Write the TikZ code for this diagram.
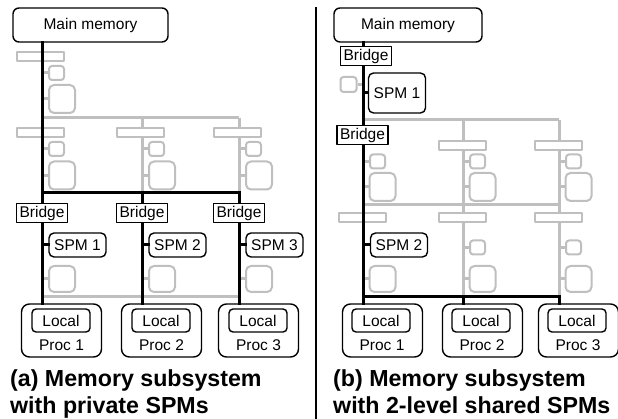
\documentclass[tikz,border=0pt]{standalone}
\usepackage{fontspec}
\setmainfont{Liberation Sans}
\definecolor{busgray}{RGB}{191,191,191}
\begin{document}
\begin{tikzpicture}[x=1pt, y=-1pt, line join=round, font=\fontsize{15.5}{17}\selectfont,
	box/.style={draw, line width=1.4pt, fill=white, inner sep=0pt},
	mem/.style={box, rounded corners=6pt, minimum width=155pt, minimum height=34pt},
	bridge/.style={box, minimum width=51pt, minimum height=19pt},
	spm/.style={box, rounded corners=5pt, minimum width=57pt, minimum height=24pt},
	proc/.style={box, rounded corners=8pt, minimum width=80pt, minimum height=53pt},
	local/.style={box, rounded corners=4pt, minimum width=58pt, minimum height=23pt},
	gbrg/.style={draw=busgray, line width=2pt, fill=white, inner sep=0pt, minimum width=47pt, minimum height=9pt},
	gsq/.style={gbrg, rounded corners=3pt, minimum width=15pt, minimum height=14pt},
	gspm/.style={gbrg, rounded corners=5pt, minimum width=26pt, minimum height=28pt},
	bus/.style={line width=3pt, line cap=rect},
	gbus/.style={busgray, line width=3pt},
	capt/.style={anchor=north west, inner sep=0pt, align=left, font=\bfseries\fontsize{23.2}{27}\selectfont}]
	\useasboundingbox (0,0) rectangle (618,419);
	% (a) private SPMs
	\coordinate (ga1) at (42,118); \coordinate (ga2) at (142,118); \coordinate (ga3) at (239,118);
	\coordinate (ca1) at (42,193); \coordinate (ca2) at (142,193); \coordinate (ca3) at (239,193);
	\coordinate (ha1) at (42,297); \coordinate (ha3) at (239,297);
	\draw[gbus] (ga1) -- (ga3) (ga2) -- (ca2) (ga3) -- (ca3) (ha1) -- (ha3);
	\node[gbrg] (gbA0) at (40.5,56.5) {};
	\node[gsq] (gsA0) at (56.5,73) {};
	\node[gspm] (gmA0) at (62,99) {};
	\draw[gbus] (gsA0.west -| ca1) -- (gsA0.west) (gmA0.west -| ca1) -- (gmA0.west);
	\node[mem] (mainA) at (90.5,25) {Main memory};
	\foreach \c [count=\i] in {42,142,239}{
		\node[gbrg] (gbA\i) at (\c-1.5,132.5) {};
		\node[gsq] (gsA\i) at (\c+14.5,149) {};
		\node[gspm] (gmA\i) at (\c+20,175.5) {};
		\node[gspm, minimum height=26pt] (glA\i) at (\c+20,279) {};
		\draw[gbus] (gsA\i.west -| ca\i) -- (gsA\i.west) (gmA\i.west -| ca\i) -- (gmA\i.west)
			(glA\i.west -| ca\i) -- (glA\i.west);
		\node[bridge] (brA\i) at (\c,213) {Bridge};
		\node[spm] (spmA\i) at (\c+35.5,245) {SPM \i};
		\node[proc] (procA\i) at (\c+19.5,330.5) {};
		\node[local] (locA\i) at (\c+19,320.5) {Local};
		\node (plA\i) at (\c+19.5,345) {Proc \i};
		\draw[bus] (ca\i) -- (brA\i.north -| ca\i) (brA\i.south -| ca\i) -- (procA\i.north -| ca\i)
			(spmA\i.west -| ca\i) -- (spmA\i.west);
	}
	\draw[bus] (mainA.south -| ca1) -- (ca1) -- (ca3);
	\node[capt] (capA) at (10,369) {(a) Memory subsystem\\with private SPMs};
	\draw[line width=2pt] (316,7) -- (316,419);
	% (b) 2-level shared SPMs
	\coordinate (gb1) at (363,120); \coordinate (gb2) at (463,120); \coordinate (gb3) at (559,120);
	\coordinate (hb1) at (363,205); \coordinate (hb3) at (559,205);
	\coordinate (cb1) at (363,297); \coordinate (cb2) at (463,297); \coordinate (cb3) at (559,297);
	\draw[gbus] (gb1) -- (gb3) (gb2) -- (cb2) (gb3) -- (cb3) (hb1) -- (hb3);
	\node[mem, minimum width=148pt] (mainB) at (408,25) {Main memory};
	\node[bridge] (brB1) at (366,56) {Bridge};
	\node[gsq, minimum width=16pt, minimum height=15pt] (gsB0) at (348.5,84.5) {};
	\draw[gbus] (gsB0.east) -- (gsB0.east -| cb1);
	\node[spm, minimum height=40pt] (spmB1) at (397,93) {SPM 1};
	\node[bridge] (brB2) at (362.5,135) {Bridge};
	\node[spm] (spmB2) at (399,245) {SPM 2};
	\foreach \c [count=\i] in {363,463,559}{
		\node[gsq] (gsB\i) at (\c+14.5,161.5) {};
		\node[gspm] (gmB\i) at (\c+19.5,187) {};
		\node[gbrg] (gcB\i) at (\c-1,218) {};
		\node[gspm, minimum height=26pt] (glB\i) at (\c+19.5,279) {};
		\draw[gbus] (gsB\i.west -| cb\i) -- (gsB\i.west) (gmB\i.west -| cb\i) -- (gmB\i.west)
			(glB\i.west -| cb\i) -- (glB\i.west);
		\node[proc] (procB\i) at (\c+19.5,330.5) {};
		\node[local] (locB\i) at (\c+18,320.5) {Local};
		\node (plB\i) at (\c+19,345) {Proc \i};
		\draw[bus] (cb\i) -- (procB\i.north -| cb\i);
	}
	\foreach \c [count=\i from 2] in {463,559}{
		\node[gbrg] (gbB\i) at (\c-1,145.5) {};
		\node[gsq] (gdB\i) at (\c+14.5,247.5) {};
		\draw[gbus] (gdB\i.west -| cb\i) -- (gdB\i.west);
	}
	\draw[bus] (mainB.south -| cb1) -- (brB1.north -| cb1) (brB1.south -| cb1) -- (brB2.north -| cb1)
		(brB2.south -| cb1) -- (procB1.north -| cb1) (cb1) -- (cb3)
		(spmB1.west -| cb1) -- (spmB1.west) (spmB2.west -| cb1) -- (spmB2.west);
	\node[capt] (capB) at (333,369) {(b) Memory subsystem\\with 2-level shared SPMs};
\end{tikzpicture}
\end{document}
